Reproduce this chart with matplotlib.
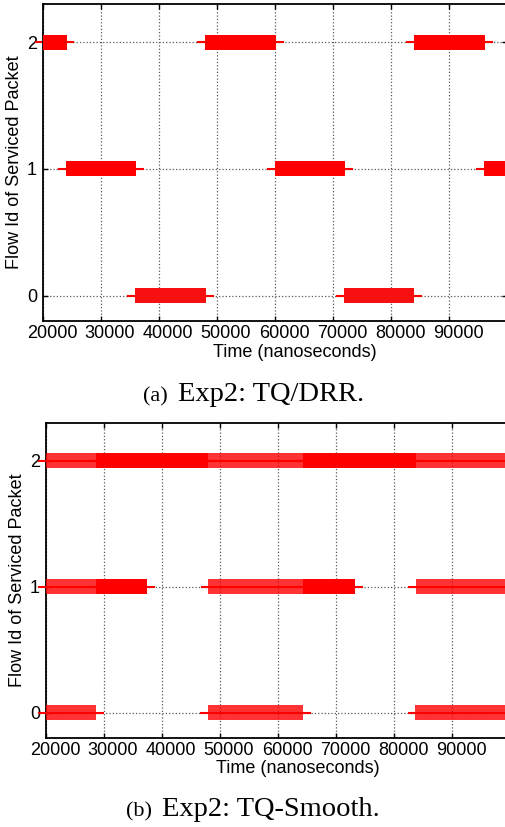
import matplotlib
matplotlib.use('Agg')
import matplotlib.pyplot as plt
import matplotlib.transforms as mtransforms

plt.rcParams['font.family'] = ['Liberation Sans', 'DejaVu Sans']

# Exp2 TQ/DRR: one service burst per entry (flow id, start, end in ns)
drr_flow = [2, 1, 0, 2, 1, 0, 2, 1]
drr_start = [20000, 23970, 35860, 47930, 60000, 71900, 83970, 96030]
drr_end = [24100, 36030, 48100, 60170, 72070, 83970, 96200, 100000]

# Exp2 TQ-Smooth: mixed=1 where packets of several flows are interleaved
smooth_flow = [2, 2, 2, 2, 2, 2, 2, 1, 1, 1, 1, 1, 0, 0, 0]
smooth_start = [20000, 28600, 37400, 48000, 64300, 73300, 83800,
                20000, 28600, 48000, 64300, 83800,
                20000, 47900, 83700]
smooth_end = [28600, 37400, 48000, 64300, 73300, 83800, 100000,
              28600, 37400, 64300, 73300, 100000,
              28600, 64300, 100000]
smooth_mixed = [1, 0, 0, 1, 0, 0, 1,
                1, 0, 1, 0, 1,
                1, 1, 1]

xticks = [20000, 30000, 40000, 50000, 60000, 70000, 80000, 90000]
yticks = [0, 1, 2]

W, H = 505, 827
BAR_H = 0.118
EXT = 1150


def style_axes(ax, label_y):
    ax.set_xlim(20000, 100000)
    ax.set_ylim(-0.2, 2.3)
    ax.set_xticks(xticks)
    ax.set_xticklabels([str(t) for t in xticks])
    ax.set_yticks(yticks)
    ax.grid(True, linestyle=':', color='0.35', linewidth=0.9)
    ax.set_axisbelow(True)
    ax.tick_params(direction='in', length=3.5, width=1, top=True, right=True,
                   labelsize=13, colors='black')
    ax.tick_params(axis='x', pad=3)
    ax.tick_params(axis='y', pad=4.3)
    for sp in ax.spines.values():
        sp.set_linewidth(1.3)
    ax.set_xlabel('Time (nanoseconds)', fontsize=13)
    ax.set_ylabel('Flow Id of Serviced Packet', fontsize=13)
    ax.xaxis.set_label_coords(0.542, label_y)
    ax.yaxis.set_label_coords(-0.043, 0.5)
    off = mtransforms.ScaledTranslation(9 / 100, 0, ax.figure.dpi_scale_trans)
    for lab in ax.get_xticklabels():
        lab.set_transform(lab.get_transform() + off)


fig = plt.figure(figsize=(W / 100, H / 100), dpi=100)

# (a) TQ/DRR
ax1 = fig.add_axes([43 / W, 1 - 321 / H, 464 / W, 317 / H])
for f, s, e in zip(drr_flow, drr_start, drr_end):
    col = '#f71010' if f == 0 else '#ff0000'
    ax1.broken_barh([(s, e - s)], (f - BAR_H / 2, BAR_H),
                    facecolors=col, linewidth=0, zorder=3)
    ax1.plot([s - EXT, e + EXT], [f, f], color='#ff0000', lw=1.5,
             clip_on=False, zorder=2)
style_axes(ax1, -0.073)

# (b) TQ-Smooth
ax2 = fig.add_axes([46 / W, 1 - 738 / H, 464 / W, 315 / H])
for f, s, e, m in zip(smooth_flow, smooth_start, smooth_end, smooth_mixed):
    ax2.broken_barh([(s, e - s)], (f - BAR_H / 2, BAR_H),
                    facecolors='#ff0000', alpha=0.8 if m else 1.0,
                    linewidth=0, zorder=3)
    ax2.plot([s - EXT, e + EXT], [f, f], color='#ff0000', lw=1.5,
             clip_on=False, zorder=4)
style_axes(ax2, -0.070)

# captions
cap = dict(family=['Liberation Serif', 'DejaVu Serif'], va='baseline', ha='left')
fig.text(143 / W, 1 - 401 / H, '(a)', fontsize=16, **cap)
fig.text(178 / W, 1 - 401 / H, 'Exp2: TQ/DRR.', fontsize=20.5, **cap)
fig.text(126 / W, 1 - 816 / H, '(b)', fontsize=16, **cap)
fig.text(162 / W, 1 - 816 / H, 'Exp2: TQ-Smooth.', fontsize=20.5, **cap)

fig.savefig('out.png', dpi=100)
